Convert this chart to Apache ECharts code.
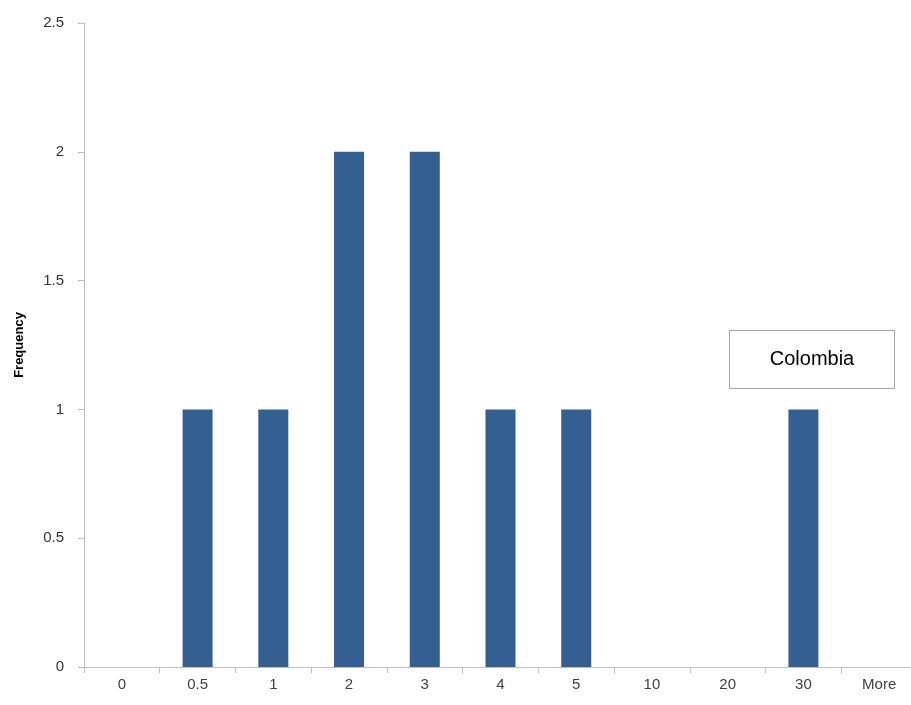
<!DOCTYPE html>
<html>
<head>
<meta charset="utf-8">
<script src="https://cdn.jsdelivr.net/npm/echarts@6/dist/echarts.min.js"></script>
<style>html,body{margin:0;padding:0;background:#fff}#c{width:911px;height:705px}</style>
</head>
<body>
<div id="c"></div>
<script>
const categories = ['0', '0.5', '1', '2', '3', '4', '5', '10', '20', '30', 'More'];
const frequency = [0, 1, 1, 2, 2, 1, 1, 0, 0, 1, 0];
const yTicks = { min: 0, max: 2.5, interval: 0.5 };
const yTitle = 'Frequency';
const boxLabel = 'Colombia';

const chart = echarts.init(document.getElementById('c'), null, { renderer: 'canvas' });
chart.setOption({
  animation: false,
  grid: { left: 84, right: -6, top: 23, bottom: 38, containLabel: false, outerBoundsMode: 'none' },
  xAxis: {
    type: 'category',
    data: categories,
    axisLine: { lineStyle: { color: '#bfbfbf', width: 1 } },
    axisTick: { show: true, alignWithLabel: false, length: 6, lineStyle: { color: '#bfbfbf' } },
    axisLabel: { color: '#404040', fontSize: 15, fontFamily: 'Liberation Sans, Arial, sans-serif', margin: 10 },
    splitLine: { show: false }
  },
  yAxis: {
    type: 'value',
    min: yTicks.min, max: yTicks.max, interval: yTicks.interval,
    name: yTitle,
    nameLocation: 'middle',
    nameGap: 58,
    nameRotate: 90,
    nameTextStyle: { color: '#000', fontSize: 13, fontWeight: 'bold', fontFamily: 'Liberation Sans, Arial, sans-serif' },
    axisLine: { show: true, lineStyle: { color: '#bfbfbf', width: 1 } },
    axisTick: { show: true, length: 6, lineStyle: { color: '#bfbfbf' } },
    axisLabel: { color: '#333', fontSize: 15, fontFamily: 'Liberation Sans, Arial, sans-serif', margin: 20 },
    splitLine: { show: false }
  },
  series: [{
    type: 'bar',
    data: frequency,
    barWidth: 30,
    itemStyle: { color: '#345f91' }
  }],
  graphic: [{
    type: 'group',
    left: 729, top: 330,
    children: [
      { type: 'rect', shape: { x: 0, y: 0, width: 165, height: 58 }, style: { fill: '#fff', stroke: '#a6a6a6', lineWidth: 1 } },
      { type: 'text', x: 82.5, y: 29, style: { text: boxLabel, fill: '#000', fontSize: 20, fontFamily: 'Liberation Sans, Arial, sans-serif', align: 'center', verticalAlign: 'middle' } }
    ]
  }]
});
</script>
</body>
</html>
